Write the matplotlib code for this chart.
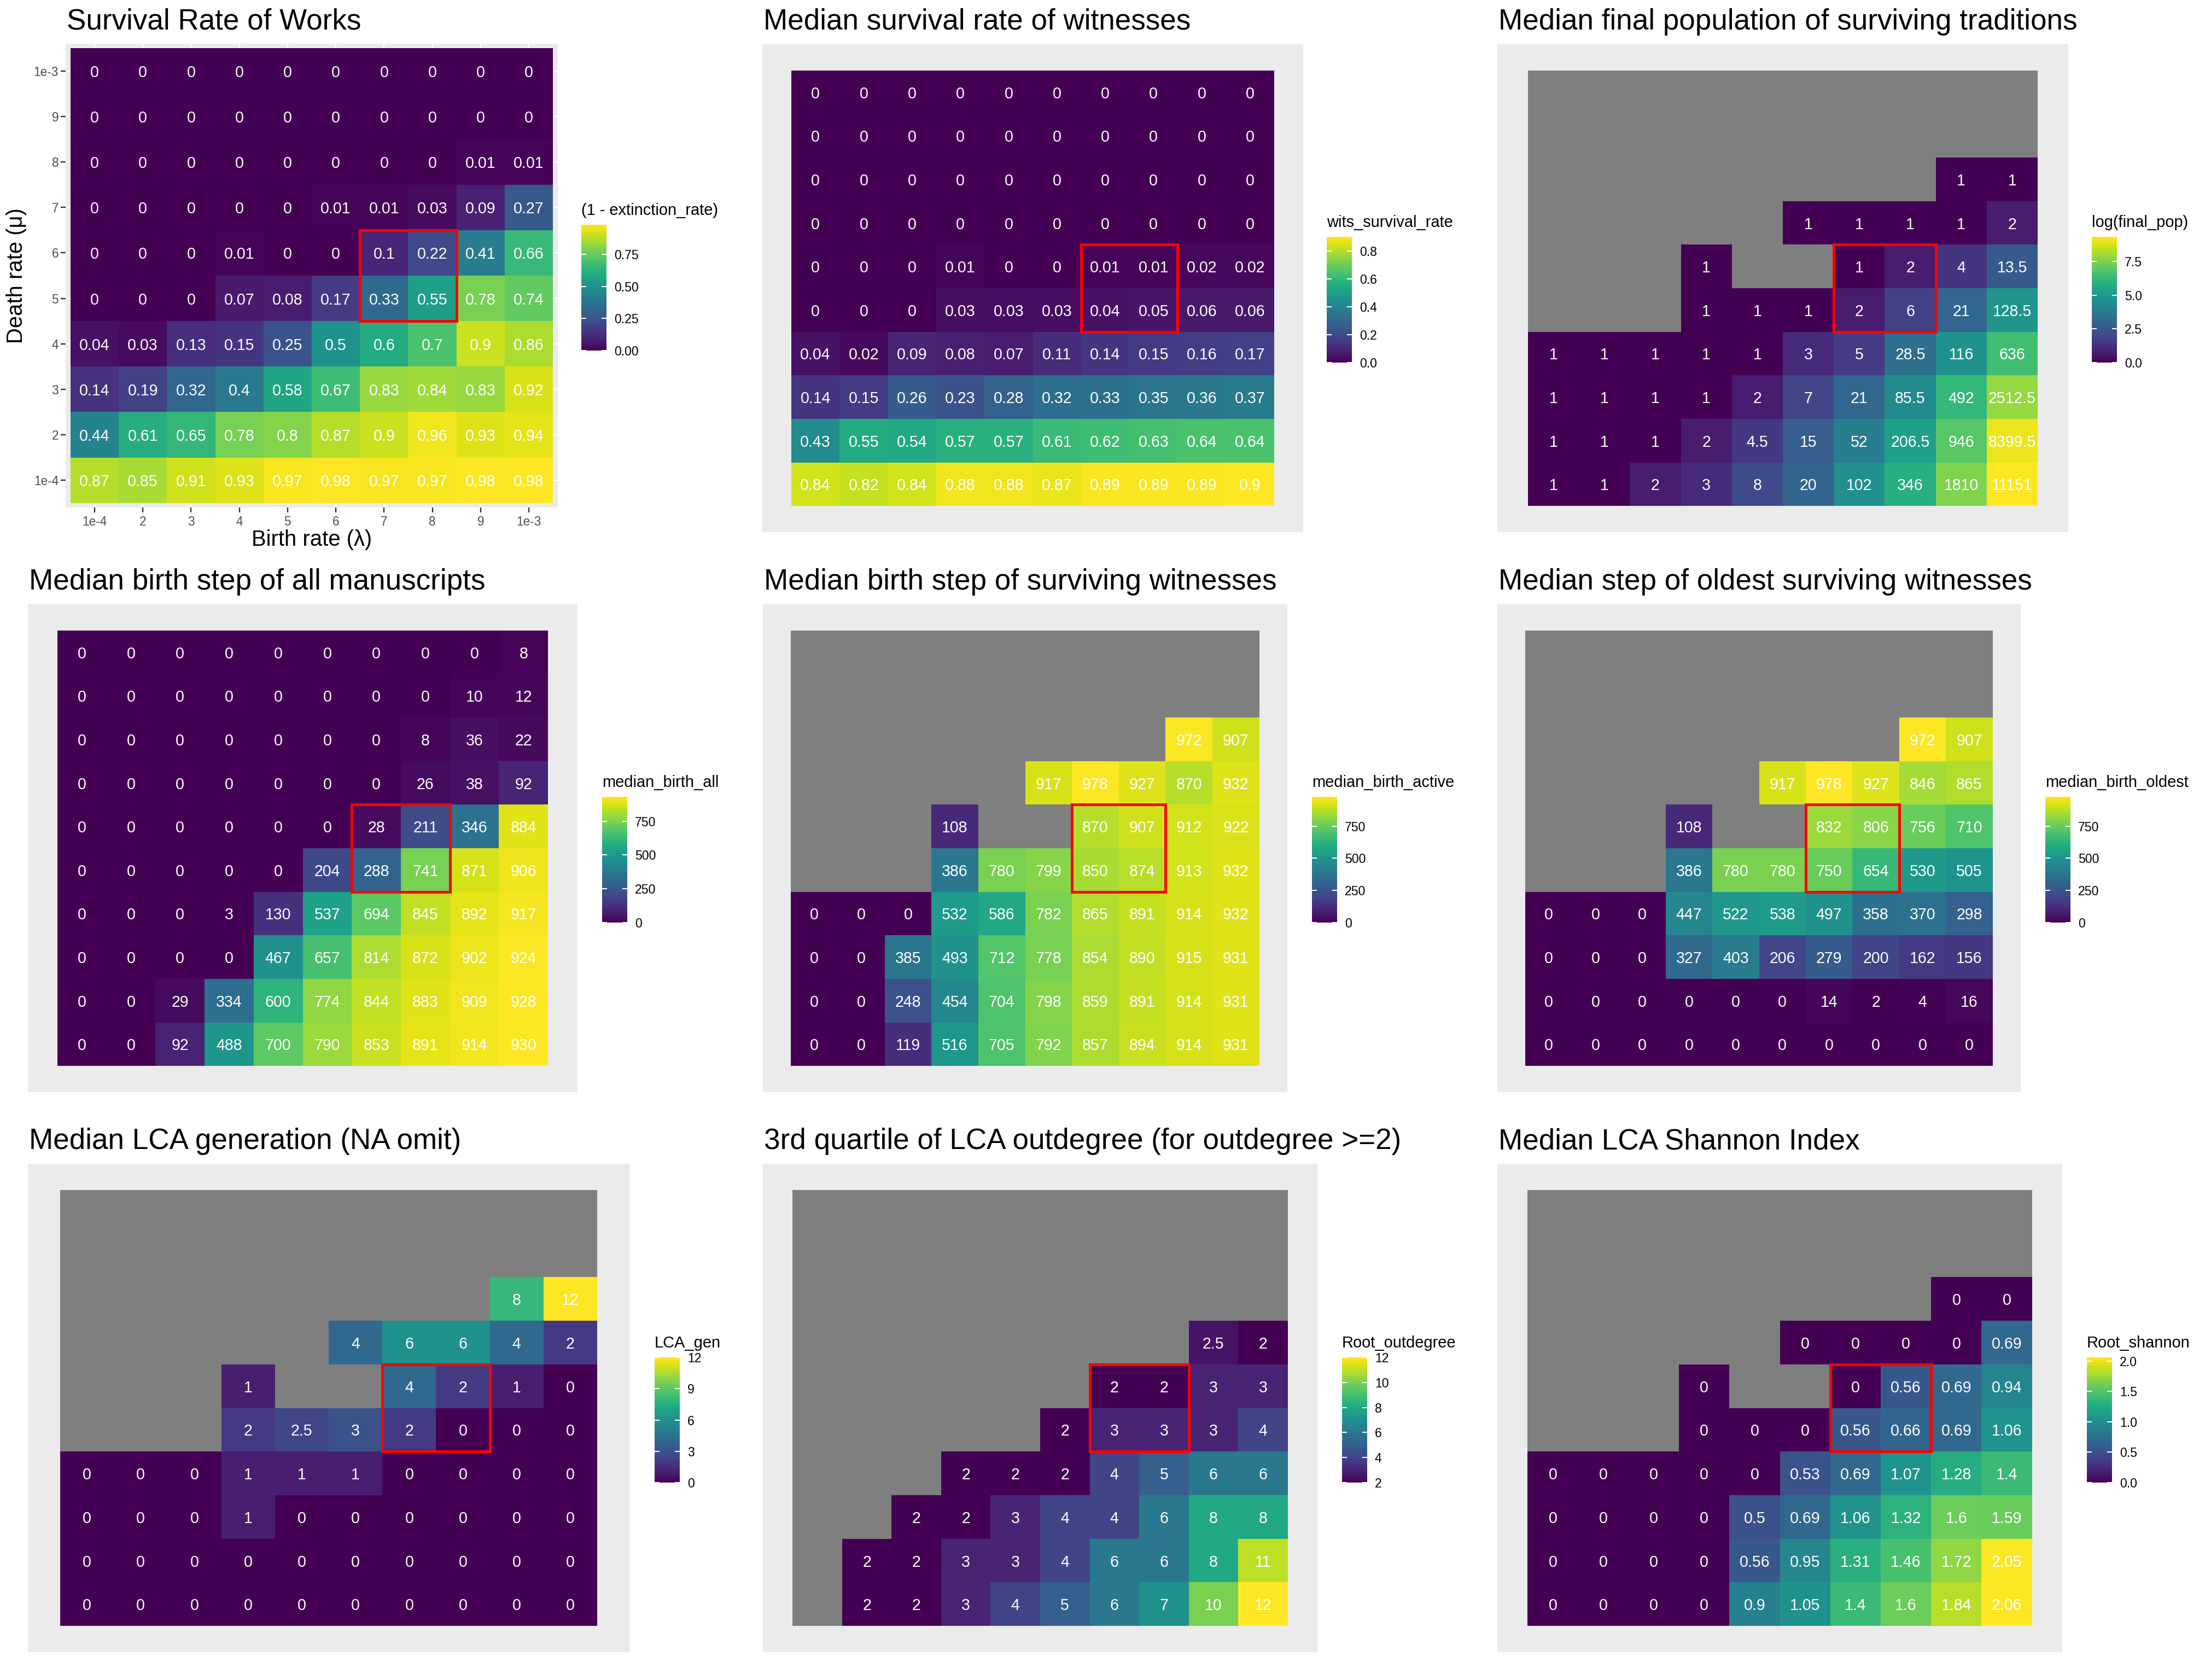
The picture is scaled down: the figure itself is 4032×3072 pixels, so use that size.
import numpy as np
import matplotlib
matplotlib.use("Agg")
import matplotlib.pyplot as plt
from matplotlib.patches import Rectangle
from matplotlib.colors import Normalize
from matplotlib.cm import ScalarMappable

plt.rcParams['font.family'] = ['Liberation Sans', 'DejaVu Sans']

N = np.nan

# ---------------- data ----------------
birth_labels = ['1e-4', '2', '3', '4', '5', '6', '7', '8', '9', '1e-3']
death_labels = ['1e-3', '9', '8', '7', '6', '5', '4', '3', '2', '1e-4']  # top -> bottom
highlight_birth = ['7', '8']
highlight_death = ['6', '5']

survival_works = [
    [0, 0, 0, 0, 0, 0, 0, 0, 0, 0],
    [0, 0, 0, 0, 0, 0, 0, 0, 0, 0],
    [0, 0, 0, 0, 0, 0, 0, 0, 0.01, 0.01],
    [0, 0, 0, 0, 0, 0.01, 0.01, 0.03, 0.09, 0.27],
    [0, 0, 0, 0.01, 0, 0, 0.1, 0.22, 0.41, 0.66],
    [0, 0, 0, 0.07, 0.08, 0.17, 0.33, 0.55, 0.78, 0.74],
    [0.04, 0.03, 0.13, 0.15, 0.25, 0.5, 0.6, 0.7, 0.9, 0.86],
    [0.14, 0.19, 0.32, 0.4, 0.58, 0.67, 0.83, 0.84, 0.83, 0.92],
    [0.44, 0.61, 0.65, 0.78, 0.8, 0.87, 0.9, 0.96, 0.93, 0.94],
    [0.87, 0.85, 0.91, 0.93, 0.97, 0.98, 0.97, 0.97, 0.98, 0.98],
]

wits_survival = [
    [0, 0, 0, 0, 0, 0, 0, 0, 0, 0],
    [0, 0, 0, 0, 0, 0, 0, 0, 0, 0],
    [0, 0, 0, 0, 0, 0, 0, 0, 0, 0],
    [0, 0, 0, 0, 0, 0, 0, 0, 0, 0],
    [0, 0, 0, 0.01, 0, 0, 0.01, 0.01, 0.02, 0.02],
    [0, 0, 0, 0.03, 0.03, 0.03, 0.04, 0.05, 0.06, 0.06],
    [0.04, 0.02, 0.09, 0.08, 0.07, 0.11, 0.14, 0.15, 0.16, 0.17],
    [0.14, 0.15, 0.26, 0.23, 0.28, 0.32, 0.33, 0.35, 0.36, 0.37],
    [0.43, 0.55, 0.54, 0.57, 0.57, 0.61, 0.62, 0.63, 0.64, 0.64],
    [0.84, 0.82, 0.84, 0.88, 0.88, 0.87, 0.89, 0.89, 0.89, 0.9],
]

final_pop = [
    [N, N, N, N, N, N, N, N, N, N],
    [N, N, N, N, N, N, N, N, N, N],
    [N, N, N, N, N, N, N, N, 1, 1],
    [N, N, N, N, N, 1, 1, 1, 1, 2],
    [N, N, N, 1, N, N, 1, 2, 4, 13.5],
    [N, N, N, 1, 1, 1, 2, 6, 21, 128.5],
    [1, 1, 1, 1, 1, 3, 5, 28.5, 116, 636],
    [1, 1, 1, 1, 2, 7, 21, 85.5, 492, 2512.5],
    [1, 1, 1, 2, 4.5, 15, 52, 206.5, 946, 8399.5],
    [1, 1, 2, 3, 8, 20, 102, 346, 1810, 11151],
]

birth_all = [
    [0, 0, 0, 0, 0, 0, 0, 0, 0, 8],
    [0, 0, 0, 0, 0, 0, 0, 0, 10, 12],
    [0, 0, 0, 0, 0, 0, 0, 8, 36, 22],
    [0, 0, 0, 0, 0, 0, 0, 26, 38, 92],
    [0, 0, 0, 0, 0, 0, 28, 211, 346, 884],
    [0, 0, 0, 0, 0, 204, 288, 741, 871, 906],
    [0, 0, 0, 3, 130, 537, 694, 845, 892, 917],
    [0, 0, 0, 0, 467, 657, 814, 872, 902, 924],
    [0, 0, 29, 334, 600, 774, 844, 883, 909, 928],
    [0, 0, 92, 488, 700, 790, 853, 891, 914, 930],
]

birth_active = [
    [N, N, N, N, N, N, N, N, N, N],
    [N, N, N, N, N, N, N, N, N, N],
    [N, N, N, N, N, N, N, N, 972, 907],
    [N, N, N, N, N, 917, 978, 927, 870, 932],
    [N, N, N, 108, N, N, 870, 907, 912, 922],
    [N, N, N, 386, 780, 799, 850, 874, 913, 932],
    [0, 0, 0, 532, 586, 782, 865, 891, 914, 932],
    [0, 0, 385, 493, 712, 778, 854, 890, 915, 931],
    [0, 0, 248, 454, 704, 798, 859, 891, 914, 931],
    [0, 0, 119, 516, 705, 792, 857, 894, 914, 931],
]

birth_oldest = [
    [N, N, N, N, N, N, N, N, N, N],
    [N, N, N, N, N, N, N, N, N, N],
    [N, N, N, N, N, N, N, N, 972, 907],
    [N, N, N, N, N, 917, 978, 927, 846, 865],
    [N, N, N, 108, N, N, 832, 806, 756, 710],
    [N, N, N, 386, 780, 780, 750, 654, 530, 505],
    [0, 0, 0, 447, 522, 538, 497, 358, 370, 298],
    [0, 0, 0, 327, 403, 206, 279, 200, 162, 156],
    [0, 0, 0, 0, 0, 0, 14, 2, 4, 16],
    [0, 0, 0, 0, 0, 0, 0, 0, 0, 0],
]

lca_gen = [
    [N, N, N, N, N, N, N, N, N, N],
    [N, N, N, N, N, N, N, N, N, N],
    [N, N, N, N, N, N, N, N, 8, 12],
    [N, N, N, N, N, 4, 6, 6, 4, 2],
    [N, N, N, 1, N, N, 4, 2, 1, 0],
    [N, N, N, 2, 2.5, 3, 2, 0, 0, 0],
    [0, 0, 0, 1, 1, 1, 0, 0, 0, 0],
    [0, 0, 0, 1, 0, 0, 0, 0, 0, 0],
    [0, 0, 0, 0, 0, 0, 0, 0, 0, 0],
    [0, 0, 0, 0, 0, 0, 0, 0, 0, 0],
]

root_outdegree = [
    [N, N, N, N, N, N, N, N, N, N],
    [N, N, N, N, N, N, N, N, N, N],
    [N, N, N, N, N, N, N, N, N, N],
    [N, N, N, N, N, N, N, N, 2.5, 2],
    [N, N, N, N, N, N, 2, 2, 3, 3],
    [N, N, N, N, N, 2, 3, 3, 3, 4],
    [N, N, N, 2, 2, 2, 4, 5, 6, 6],
    [N, N, 2, 2, 3, 4, 4, 6, 8, 8],
    [N, 2, 2, 3, 3, 4, 6, 6, 8, 11],
    [N, 2, 2, 3, 4, 5, 6, 7, 10, 12],
]

root_shannon = [
    [N, N, N, N, N, N, N, N, N, N],
    [N, N, N, N, N, N, N, N, N, N],
    [N, N, N, N, N, N, N, N, 0, 0],
    [N, N, N, N, N, 0, 0, 0, 0, 0.69],
    [N, N, N, 0, N, N, 0, 0.56, 0.69, 0.94],
    [N, N, N, 0, 0, 0, 0.56, 0.66, 0.69, 1.06],
    [0, 0, 0, 0, 0, 0.53, 0.69, 1.07, 1.28, 1.4],
    [0, 0, 0, 0, 0.5, 0.69, 1.06, 1.32, 1.6, 1.59],
    [0, 0, 0, 0, 0.56, 0.95, 1.31, 1.46, 1.72, 2.05],
    [0, 0, 0, 0, 0.9, 1.05, 1.4, 1.6, 1.84, 2.06],
]

titles = [
    "Survival Rate of Works",
    "Median survival rate of witnesses",
    "Median final population of surviving traditions",
    "Median birth step of all manuscripts",
    "Median birth step of surviving witnesses",
    "Median step of oldest surviving witnesses",
    "Median LCA generation (NA omit)",
    "3rd quartile of LCA outdegree (for outdegree >=2)",
    "Median LCA Shannon Index",
]
legend_titles = [
    "(1 - extinction_rate)", "wits_survival_rate", "log(final_pop)",
    "median_birth_all", "median_birth_active", "median_birth_oldest",
    "LCA_gen", "Root_outdegree", "Root_shannon",
]
legend_ticks = [
    [0, 0.25, 0.5, 0.75],
    [0, 0.2, 0.4, 0.6, 0.8],
    [0, 2.5, 5.0, 7.5],
    [0, 250, 500, 750],
    [0, 250, 500, 750],
    [0, 250, 500, 750],
    [0, 3, 6, 9, 12],
    [2, 4, 6, 8, 10, 12],
    [0, 0.5, 1.0, 1.5, 2.0],
]
legend_fmt = ["{:.2f}", "{:.1f}", "{:.1f}", "{:.0f}", "{:.0f}", "{:.0f}",
              "{:.0f}", "{:.0f}", "{:.1f}"]

# ---------------- layout (pixels) ----------------
W, H = 4032, 3072
fig = plt.figure(figsize=(W / 72, H / 72), dpi=72)


def rect(x0, x1, y0, y1):
    return [x0 / W, 1 - y1 / H, (x1 - x0) / W, (y1 - y0) / H]


# panel boxes (x0, x1, y0, y1), legend bars (x0, y0, y1)
boxes = [
    (120, 1020, 80, 928), (1394, 2383, 81, 973), (2738, 3782, 81, 973),
    (51, 1056, 1105, 1997), (1395, 2354, 1105, 1997), (2738, 3695, 1105, 1997),
    (51, 1151, 2128, 3021), (1395, 2409, 2128, 3021), (2738, 3771, 2128, 3021),
]
bars = [
    (1063, 411, 641), (2426, 433, 663), (3825, 433, 663),
    (1101, 1457, 1687), (2399, 1457, 1687), (3740, 1457, 1687),
    (1197, 2482, 2711), (2454, 2482, 2711), (3816, 2482, 2711),
]

cmap = plt.get_cmap('viridis').copy()
cmap.set_bad('#7F7F7F')


def fmt_val(v):
    return "{:g}".format(v)


def panel(k, values, color_values, first=False):
    vals = np.array(values, dtype=float)
    cvals = np.array(color_values, dtype=float)
    nrow, ncol = vals.shape
    x0, x1, y0, y1 = boxes[k]
    ax = fig.add_axes(rect(x0, x1, y0, y1))
    ax.set_facecolor('#EBEBEB')
    for s in ax.spines.values():
        s.set_visible(False)
    norm = Normalize(np.nanmin(cvals), np.nanmax(cvals))
    ax.pcolormesh(np.arange(ncol + 1) - 0.5, np.arange(nrow + 1) - 0.5,
                  np.ma.masked_invalid(cvals[::-1]), cmap=cmap, norm=norm,
                  zorder=1, edgecolors='none')
    for i in range(nrow):
        for j in range(ncol):
            v = vals[i, j]
            if np.isnan(v):
                continue
            ax.text(j, nrow - 1 - i, fmt_val(v), color='white', fontsize=28.5,
                    ha='center', va='center_baseline', zorder=2)
    cols = [birth_labels.index(b) for b in highlight_birth]
    rows = [nrow - 1 - death_labels.index(d) for d in highlight_death]
    ax.add_patch(Rectangle((min(cols) - 0.5, min(rows) - 0.5), len(cols), len(rows),
                           fill=False, edgecolor='#FF0000', linewidth=5, zorder=3,
                           clip_on=False))
    pad = 0.1 if first else 0.6
    ax.set_xlim(-0.5 - pad, ncol - 0.5 + pad)
    ax.set_ylim(-0.5 - pad, nrow - 0.5 + pad)
    if first:
        ax.set_xticks(range(ncol), birth_labels)
        ax.set_yticks(range(nrow), death_labels[::-1])
        ax.grid(True, color='white', linewidth=2.2)
        ax.set_axisbelow(True)
        ax.tick_params(length=9, width=2.4, color='#333333', labelsize=22.5,
                       labelcolor='#4D4D4D')
        ax.tick_params(axis='x', pad=6)
        ax.tick_params(axis='y', pad=4)
        fig.text(((x0 + x1) / 2) / W, 1 - 998 / H, "Birth rate (\u03bb)", fontsize=40,
                 ha='center', va='baseline')
        fig.text(30 / W, 1 - ((y0 + y1) / 2) / H, "Death rate (\u03bc)", fontsize=40,
                 ha='center', va='center', rotation=90)
    else:
        ax.set_xticks([])
        ax.set_yticks([])
    # title
    fig.text((x0 + 2) / W, 1 - (y0 - 27) / H, titles[k], fontsize=53,
             ha='left', va='baseline')
    # legend
    bx, by0, by1 = bars[k]
    cax = fig.add_axes(rect(bx, bx + 46, by0, by1))
    cb = fig.colorbar(ScalarMappable(norm=norm, cmap='viridis'), cax=cax)
    cb.outline.set_visible(False)
    cb.set_ticks(legend_ticks[k])
    cb.set_ticklabels([legend_fmt[k].format(t) for t in legend_ticks[k]])
    cax.minorticks_off()
    cax.tick_params(axis='y', which='major', direction='in', length=9, width=2,
                    color='white', left=True, right=True, labelleft=False,
                    labelright=True, labelsize=23, pad=14, labelcolor='black')
    fig.text(bx / W, 1 - (by0 - 18) / H, legend_titles[k], fontsize=29,
             ha='left', va='baseline')


panel(0, survival_works, survival_works, first=True)
panel(1, wits_survival, wits_survival)
panel(2, final_pop, np.log(np.array(final_pop, dtype=float)))
panel(3, birth_all, birth_all)
panel(4, birth_active, birth_active)
panel(5, birth_oldest, birth_oldest)
panel(6, lca_gen, lca_gen)
panel(7, root_outdegree, root_outdegree)
panel(8, root_shannon, root_shannon)

fig.savefig("out.png", dpi=72, facecolor='white')
